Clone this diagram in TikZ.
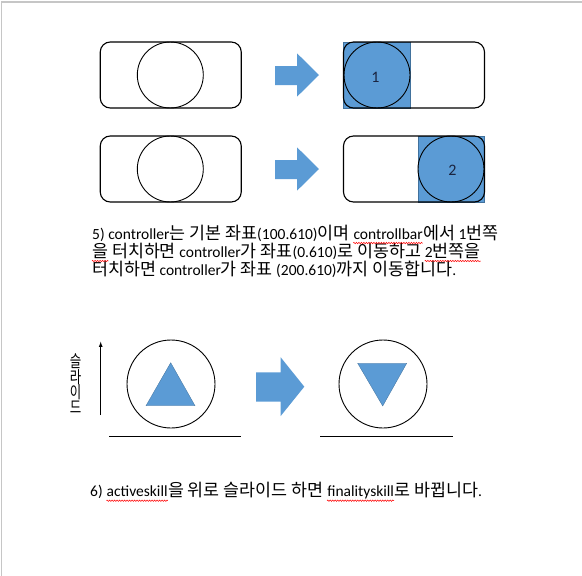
\documentclass[tikz,border=0pt]{standalone}
\usepackage{fontspec}
\usetikzlibrary{positioning, decorations.pathmorphing}
\setmainfont{Carlito}
\newfontfamily\kr[Scale=1.12]{Noto Sans CJK KR}
\definecolor{officeblue}{HTML}{5B9BD5}
\definecolor{officeedge}{HTML}{41719C}
\definecolor{labelnavy}{HTML}{1A2440}
\newcommand\spc{3.5pt}

\tikzset{
  bar/.style={draw, rounded corners=10pt, line width=1.1pt, minimum width=141pt, minimum height=66pt, inner sep=0},
  knob/.style={draw, circle, line width=0.9pt, minimum size=66pt, inner sep=0, text=labelnavy},
  knobfill/.style={fill=officeblue, draw=officeedge, line width=0.4pt, inner sep=0, minimum height=66pt},
  skill/.style={draw, circle, line width=0.9pt, minimum size=88pt, inner sep=0},
  blockarrow/.style={fill=officeblue},
  tri/.style={fill=officeblue, draw=officeedge, line width=0.3pt},
  ground/.style={line width=1.1pt},
  word/.style={inner sep=0, anchor=base west},
  squiggle/.style={red, line width=0.5pt, decorate, decoration={zigzag, amplitude=0.7pt, segment length=2.5pt}}
}

\begin{document}
\begin{tikzpicture}[x=1pt, y=-1pt, >=latex, font=\fontsize{15.5}{18}\selectfont]
\useasboundingbox (0,0) rectangle (582,576);

% page edge
\draw[gray!45, line width=1.2pt] (1.5,576) -- (1.5,2) -- (582,2);

% controllbar, before
\node[bar] (barL1) at (170.75,75) {};
\node[knob] (knobL1) at (170.3,75) {};
\node[bar] (barL2) at (170.75,169) {};
\node[knob] (knobL2) at (170.3,169) {};

% block arrows
\foreach \dy in {0,94}
  \fill[blockarrow] (275,66+\dy) -- (297,66+\dy) -- (297,53.3+\dy) -- (319,75+\dy)
    -- (297,96.7+\dy) -- (297,85+\dy) -- (275,85+\dy) -- cycle;

% controllbar, after touching 1
\node[knobfill, minimum width=67pt] (padR1) at (377,75) {};
\node[bar] (barR1) at (414,75) {};
\node[knob] (knobR1) at (377,75) {};
\node[text=labelnavy, font=\fontsize{16}{18}\selectfont] (numR1) at (375.5,77) {1};

% controllbar, after touching 2
\node[knobfill, minimum width=66.5pt] (padR2) at (451,169) {};
\node[bar] (barR2) at (414,169) {};
\node[knob] (knobR2) at (451,169) {};
\node[text=labelnavy, font=\fontsize{16}{18}\selectfont] (numR2) at (452.5,170.5) {2};

% text 5)
\node[word] (l1a) at (92,239) {5) controller{\kr 는 기본 좌표}(100.610){\kr 이며}};
\node[word, base right=\spc of l1a] (l1b) {controllbar};
\node[word, base right=0pt of l1b] (l1c) {{\kr 에서} 1{\kr 번쪽}};
\node[word] (l2a) at (92,257) {\kr 을};
\node[word, base right=\spc of l2a] (l2b) {{\kr 터치하면} controller{\kr 가 좌표}(0.610){\kr 로 이동하고}};
\node[word, base right=\spc of l2b] (l2c) {2{\kr 번쪽을}};
\node[word] (l3a) at (92,275) {{\kr 터치하면} controller{\kr 가 좌표} (200.610){\kr 까지 이동합니다}.};
\foreach \w in {l1b, l2a, l2c}
  \draw[squiggle] ([yshift=-4pt]\w.base west) -- ([yshift=-4pt]\w.base east);

% slide up
\coordinate (slidebot) at (100.7,415);
\coordinate (slidetop) at (100.7,341.7);
\draw[->, line width=0.8pt] (slidebot) -- (slidetop);
\node[font=\kr\fontsize{15}{15.3}\selectfont, align=center, xscale=0.74, inner sep=0] (slidelabel) at (75.5,384) {슬\\라\\이\\드};

\node[skill] (active) at (171,384) {};
\fill[tri] (170.7,362.7) -- (195,405.7) -- (146,405.7) -- cycle;
\coordinate (groundL1) at (109.3,436.7);
\coordinate (groundL2) at (241,436.7);
\draw[ground] (groundL1) -- (groundL2);

\fill[blockarrow] (256,372.3) -- (280.7,372.3) -- (280.7,357.3) -- (304.3,386.7)
  -- (280.7,416) -- (280.7,401.7) -- (256,401.7) -- cycle;

\node[skill] (finality) at (383,384) {};
\fill[tri] (357.7,363.3) -- (406.7,363.3) -- (382.7,406) -- cycle;
\coordinate (groundR1) at (320,436.7);
\coordinate (groundR2) at (453.3,436.7);
\draw[ground] (groundR1) -- (groundR2);

% text 6)
\node[word] (l6a) at (90,496.7) {6)};
\node[word, base right=\spc of l6a] (l6b) {activeskill};
\node[word, base right=0pt of l6b] (l6c) {\kr 을 위로 슬라이드 하면};
\node[word, base right=\spc of l6c] (l6d) {finalityskill};
\node[word, base right=0pt of l6d] (l6e) {{\kr 로 바뀝니다}.};
\foreach \w in {l6b, l6d}
  \draw[squiggle] ([yshift=-4pt]\w.base west) -- ([yshift=-4pt]\w.base east);

\end{tikzpicture}
\end{document}
